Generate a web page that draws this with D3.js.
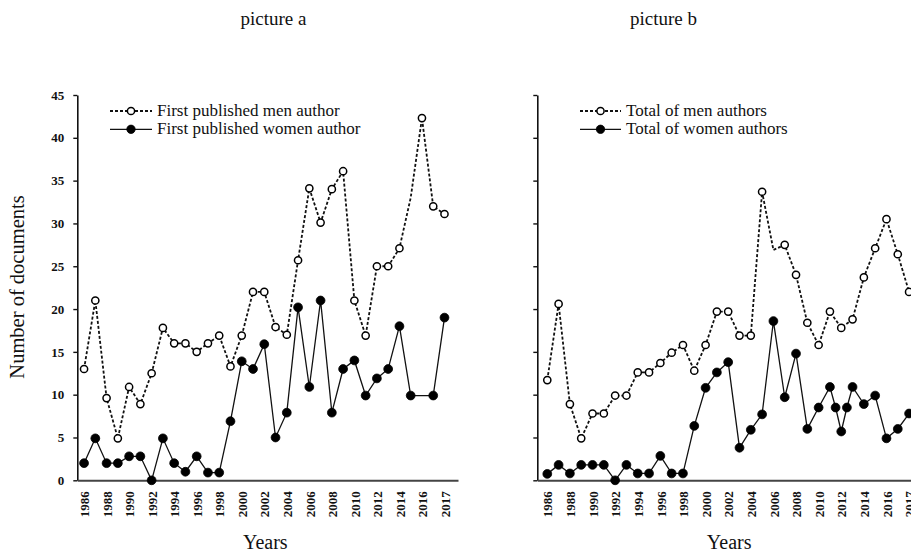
<!DOCTYPE html>
<html>
<head>
<meta charset="utf-8">
<script src="https://cdn.jsdelivr.net/npm/d3@7"></script>
<style>
  html, body { margin: 0; padding: 0; background: #fff; }
  svg { display: block; }
  text { font-family: "Liberation Serif", "Times New Roman", serif; fill: #111; }
</style>
</head>
<body>
<svg id="chart" width="911" height="554"></svg>
<script>
// ---------- data ----------
const years = [1986,1987,1988,1989,1990,1991,1992,1993,1994,1995,1996,1997,1998,1999,2000,
  2001,2002,2003,2004,2005,2006,2007,2008,2009,2010,2011,2012,2013,2014,2015,2016,2017,2018];
const tickYears  = [1986,1988,1990,1992,1994,1996,1998,2000,2002,2004,2006,2008,2010,2012,2014,2016,2018];
const tickLabels = ["1986","1988","1990","1992","1994","1996","1998","2000","2002","2004","2006","2008","2010","2012","2014","2016","2017"];
const yTicks = [0,5,10,15,20,25,30,35,40,45];

// picture a
const menA   = [13,21,9.6,4.9,10.9,8.9,12.5,17.8,16,16,15,16,16.9,13.3,16.9,22,22,17.9,17,25.7,34.1,30.1,34,36.1,21,16.9,25,25,27.1,33,42.3,32,31.1];
const womenA = [2,4.9,2,2,2.8,2.8,0,4.9,2,1,2.8,0.9,0.9,6.9,13.9,13,15.9,5,7.9,20.2,10.9,21,7.9,13,14,9.9,11.9,13,18,9.9,9.9,9.9,19];
const menAHidden = [2015];
const womenAHidden = [2016];

// picture b
const menB   = [11.7,20.6,8.9,4.9,7.8,7.8,9.9,9.9,12.6,12.6,13.7,14.9,15.8,12.8,15.8,19.7,19.7,16.9,16.9,33.7,26.9,27.5,24,18.4,15.8,19.7,17.8,18.8,23.7,27.1,30.5,26.4,22];
const menBHidden = [2006];
const womenBYears = [1986,1987,1988,1989,1990,1991,1992,1993,1994,1995,1996,1997,1998,1999,2000,
  2001,2002,2003,2004,2005,2006,2007,2008,2009,2010,2011,2011.5,2012,2012.5,2013,2014,2015,2016,2017,2018];
const womenB = [0.75,1.8,0.8,1.8,1.8,1.8,0,1.8,0.8,0.8,2.85,0.8,0.8,6.35,10.8,12.6,13.8,3.8,5.9,7.7,18.6,9.7,14.8,6,8.5,10.9,8.5,5.7,8.5,10.9,8.9,9.9,4.9,6,7.8];

const titles = ["picture a", "picture b"];
const legendA = ["First published men author", "First published women author"];
const legendB = ["Total of men authors", "Total of women authors"];

// ---------- drawing ----------
const svg = d3.select("#chart");
const y = d3.scaleLinear().domain([0, 45]).range([480.3, 95]);

const panels = [
  { title: titles[0], titleX: 273.5, axisX: 77.3,
    x: d3.scaleLinear().domain([1985.4, 2019.2]).range([77.3, 458]),
    showYLabels: true, legend: legendA, legX: 110, legW: 42, yTitle: "Number of documents",
    series: [
      { xs: years, vals: menA, hidden: menAHidden, men: true },
      { xs: years, vals: womenA, hidden: womenAHidden, men: false } ] },
  { title: titles[1], titleX: 663.5, axisX: 537.3,
    x: d3.scaleLinear().domain([1985.116, 2018.17]).range([537.3, 911]),
    showYLabels: false, legend: legendB, legX: 580, legW: 41, yTitle: null,
    series: [
      { xs: years, vals: menB, hidden: menBHidden, men: true },
      { xs: womenBYears, vals: womenB, hidden: [], men: false } ] }
];

panels.forEach(p => {
  const g = svg.append("g");

  // title
  g.append("text").attr("x", p.titleX).attr("y", 25).attr("text-anchor", "middle")
    .style("font-size", "19px").text(p.title);

  // y axis
  const ya = g.append("g").attr("transform", `translate(${p.axisX},0)`)
    .call(d3.axisLeft(y).tickValues(yTicks).tickSize(4).tickSizeOuter(0).tickPadding(9)
      .tickFormat(p.showYLabels ? d3.format("d") : () => ""));
  ya.select(".domain").attr("stroke", "#111").attr("stroke-width", 1.6);
  ya.selectAll(".tick line").attr("stroke", "#111").attr("stroke-width", 1.4);
  ya.selectAll(".tick text").style("font-size", "13px").style("font-weight", "bold")
    .style("font-family", "'Liberation Serif', serif").attr("fill", "#222");

  // x axis
  const xa = g.append("g").attr("transform", `translate(0,${y(0)})`)
    .call(d3.axisBottom(p.x).tickValues(tickYears).tickSize(0).tickSizeOuter(0)
      .tickFormat((d, i) => tickLabels[i]));
  xa.select(".domain").attr("stroke", "#444").attr("stroke-width", 2);
  xa.selectAll(".tick text")
    .attr("transform", "rotate(-90)").attr("x", -11).attr("y", 0).attr("dy", "0.36em")
    .attr("text-anchor", "end")
    .style("font-size", "13px").style("font-weight", "bold")
    .style("font-family", "'Liberation Serif', serif").attr("fill", "#222");

  // x title
  const x0 = p.x(1986), x1 = p.x(2018);
  g.append("text").attr("x", (x0 + x1) / 2 + 1).attr("y", 549).attr("text-anchor", "middle")
    .style("font-size", "20px").text("Years");

  if (p.yTitle) {
    g.append("text").attr("transform", "translate(24,287) rotate(-90)")
      .attr("text-anchor", "middle").style("font-size", "20.5px").text(p.yTitle);
  }

  // series: women first then men on top
  [...p.series].reverse().forEach(s => {
    const pts = s.xs.map((xv, i) => ({ x: xv, v: s.vals[i] }));
    const line = d3.line().x(d => p.x(d.x)).y(d => y(d.v));
    g.append("path").datum(pts).attr("fill", "none")
      .attr("stroke", "#111")
      .attr("stroke-width", s.men ? 1.8 : 1.3)
      .attr("stroke-dasharray", s.men ? "3,2" : null)
      .attr("d", line);
    g.selectAll(null).data(pts.filter(d => !s.hidden.includes(d.x))).enter().append("circle")
      .attr("cx", d => p.x(d.x)).attr("cy", d => y(d.v))
      .attr("r", s.men ? 3.6 : 4.4)
      .attr("fill", s.men ? "#fff" : "#000")
      .attr("stroke", "#000").attr("stroke-width", s.men ? 1.5 : 0.8);
  });

  // legend
  p.legend.forEach((lab, i) => {
    const ly = i === 0 ? 111 : 129.3;
    const men = i === 0;
    g.append("line").attr("x1", p.legX).attr("x2", p.legX + p.legW).attr("y1", ly).attr("y2", ly)
      .attr("stroke", "#111").attr("stroke-width", men ? 1.8 : 1.3)
      .attr("stroke-dasharray", men ? "3,2" : null);
    g.append("circle").attr("cx", p.legX + p.legW / 2).attr("cy", ly)
      .attr("r", men ? 3.6 : 4.2).attr("fill", men ? "#fff" : "#000")
      .attr("stroke", "#000").attr("stroke-width", men ? 1.5 : 0.8);
    g.append("text").attr("x", p.legX + p.legW + 5).attr("y", ly + 4.5)
      .style("font-size", "17px").text(lab);
  });
});
</script>
</body>
</html>
